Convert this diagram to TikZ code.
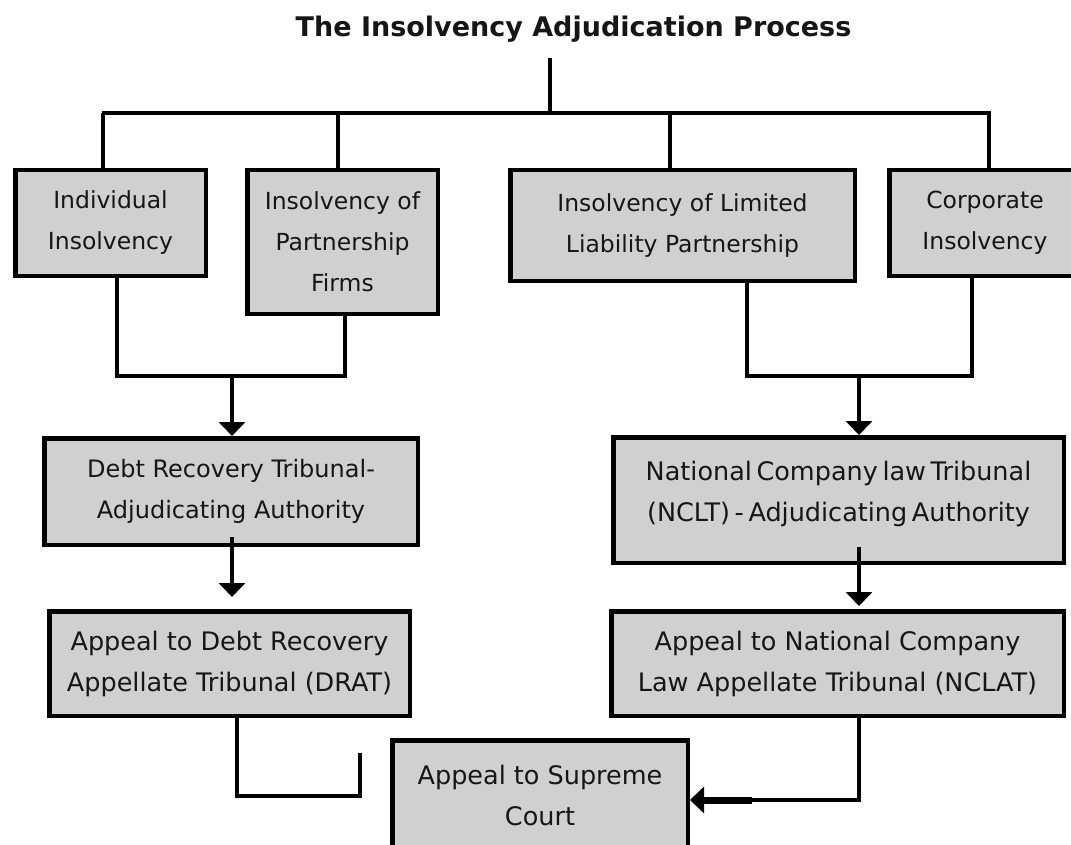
\documentclass[tikz,border=0pt]{standalone}
\usepackage{fontspec}
\setmainfont{DejaVu Sans}
\usetikzlibrary{arrows.meta}
\definecolor{boxgray}{RGB}{208,208,208}
\definecolor{ink}{RGB}{22,22,22}
\tikzset{
  box/.style={draw=black, line width=4.5pt, fill=boxgray, inner sep=0pt, align=center, text=ink},
  conn/.style={draw=black, line width=3.5pt},
  arr/.style={conn, -{Triangle[width=26pt,length=14pt]}},
  ftop/.style={font=\fontsize{23.5}{41}\selectfont},
  ftrib/.style={font=\fontsize{24}{41}\selectfont},
  fapp/.style={font=\fontsize{25.5}{41}\selectfont},
}
\begin{document}
\begin{tikzpicture}[x=1pt,y=-1pt]
\useasboundingbox (0,0) rectangle (1071,845);
\clip (0,0) rectangle (1071,845);

\node[anchor=base, text=ink, font=\bfseries\fontsize{27}{30}\selectfont] (title) at (573.5,37) {The Insolvency Adjudication Process};

% top row boxes
\node[box, ftop, minimum width=190.5pt, minimum height=105.5pt] (ind) at (110.5,223) {Individual\\Insolvency};
\node[box, ftop, minimum width=190.5pt, minimum height=143.5pt] (part) at (342.5,242) {Insolvency of\\Partnership\\Firms};
\node[box, ftop, minimum width=344.5pt, minimum height=110.5pt] (llp) at (682.5,225.5) {Insolvency of Limited\\Liability Partnership};
\node[box, ftop, minimum width=191.5pt, minimum height=105.5pt] (corp) at (985,223) {Corporate\\Insolvency};

% tribunals
\node[box, ftrib, minimum width=373.5pt, minimum height=106.5pt] (drt) at (231,491.5) {Debt Recovery Tribunal-\\Adjudicating Authority};
\node[box, font=\fontsize{25.5}{41}\selectfont, minimum width=450.5pt, minimum height=125.5pt, text depth=18pt] (nclt) at (838.5,500) {\spaceskip=0.18em National Company law Tribunal\\\spaceskip=0.18em (NCLT) - Adjudicating Authority};

% appeals
\node[box, fapp, minimum width=360.5pt, minimum height=104.5pt] (drat) at (229.5,663.5) {Appeal to Debt Recovery\\Appellate Tribunal (DRAT)};
\node[box, fapp, minimum width=452.5pt, minimum height=104.5pt] (nclat) at (837.5,663.5) {Appeal to National Company\\Law Appellate Tribunal (NCLAT)};
\node[box, fapp, minimum width=295.5pt, minimum height=109.5pt] (sc) at (540,795) {Appeal to Supreme\\Court};

% tree from title
\coordinate (top) at (550,58);
\coordinate (busC) at (550,113);
\coordinate (busL) at (101.5,113);
\coordinate (busR) at (990.5,113);
\coordinate (d1) at (103,113);
\coordinate (d2) at (338,113);
\coordinate (d3) at (670,113);
\coordinate (d4) at (989,113);
\draw[conn] (top) -- (busC);
\draw[conn] (busL) -- (busR);
\draw[conn] (d1) -- (d1 |- ind.north);
\draw[conn] (d2) -- (d2 |- part.north);
\draw[conn] (d3) -- (d3 |- llp.north);
\draw[conn] (d4) -- (d4 |- corp.north);

% left merge
\coordinate (m1) at (117,376);
\coordinate (m2) at (345,376);
\coordinate (a1) at (232,376);
\draw[conn] (ind.south -| m1) -- (m1) -- (m2) -- (part.south -| m2);
\draw[arr] (a1) -- (a1 |- drt.north);

% right merge
\coordinate (m3) at (747,376);
\coordinate (m4) at (972,376);
\coordinate (a2) at (859,376);
\draw[conn] (llp.south -| m3) -- (m3) -- (m4) -- (corp.south -| m4);
\draw[arr] (a2) -- (a2 |- nclt.north);

% tribunal to appeal
\coordinate (s1) at (232,537);
\coordinate (e1) at (232,597);
\draw[arr] (s1) -- (e1);
\coordinate (s2) at (859,547);
\coordinate (e2) at (859,606);
\draw[arr] (s2) -- (e2);

% appeals to supreme court
\coordinate (k1) at (237,796);
\coordinate (k2) at (360,796);
\coordinate (k3) at (360,753);
\draw[conn] (drat.south -| k1) -- (k1) -- (k2) -- (k3);
\coordinate (k4) at (859,800);
\draw[arr] (nclat.south -| k4) -- (k4) -- (k4 -| sc.east);
\coordinate (k5) at (752,800);
\draw[draw=black, line width=7pt] (k5) -- ([xshift=12pt]k4 -| sc.east);
\end{tikzpicture}
\end{document}
